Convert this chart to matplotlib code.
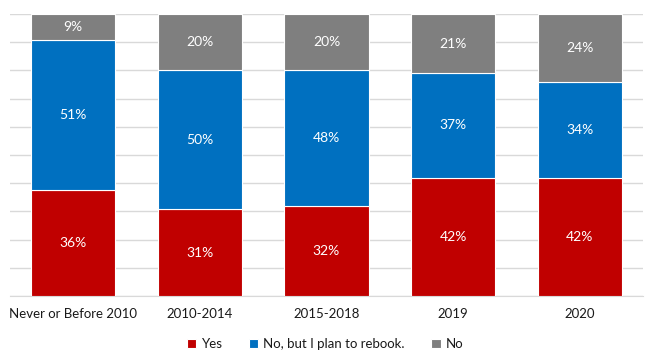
import numpy as np
import matplotlib.pyplot as plt

# data
categories = ['Never or Before 2010', '2010-2014', '2015-2018', '2019', '2020']
yes = [36, 31, 32, 42, 42]
rebook = [51, 50, 48, 37, 34]
no = [9, 20, 20, 21, 24]

series = [('Yes', yes, '#C00000'),
          ('No, but I plan to rebook.', rebook, '#0070C0'),
          ('No', no, '#7F7F7F')]

plt.rcParams['font.family'] = ['Lato', 'DejaVu Sans']

fig = plt.figure(figsize=(6.5, 3.62), dpi=100)
ax = fig.add_axes([10 / 650, 1 - 296 / 362, 633 / 650, 282 / 362])

x = np.arange(len(categories))
totals = np.array(yes) + np.array(rebook) + np.array(no)
bottom = np.zeros(len(categories))
for name, vals, color in series:
    share = np.array(vals) / totals * 100
    ax.bar(x, share, bottom=bottom, width=0.665, color=color, label=name,
           edgecolor='white', linewidth=0.8, zorder=3)
    for xi, b, h, v in zip(x, bottom, share, vals):
        ax.text(xi, b + h / 2, f'{v}%', ha='center', va='center',
                color='white', fontsize=10, zorder=4)
    bottom += share

ax.set_xlim(-0.5, len(categories) - 0.5)
ax.set_ylim(0, 100)
ax.set_yticks(np.arange(0, 101, 10))
ax.set_yticklabels([])
ax.tick_params(axis='y', length=0)
ax.tick_params(axis='x', length=0, labelsize=9.5, labelcolor='#1a1a1a', pad=9)
ax.set_xticks(x)
ax.set_xticklabels(categories)
ax.grid(axis='y', color='#D9D9D9', linewidth=1, zorder=0)
for s in ['top', 'right', 'left']:
    ax.spines[s].set_visible(False)
ax.spines['bottom'].set_color('#D9D9D9')

ax.legend(loc='upper center', bbox_to_anchor=(0.498, -0.108), ncol=3,
          frameon=False, fontsize=9.5, handlelength=0.7, handleheight=0.7,
          handletextpad=0.4, columnspacing=2.0, labelcolor='#1a1a1a')

fig.savefig('out.png', dpi=100)
